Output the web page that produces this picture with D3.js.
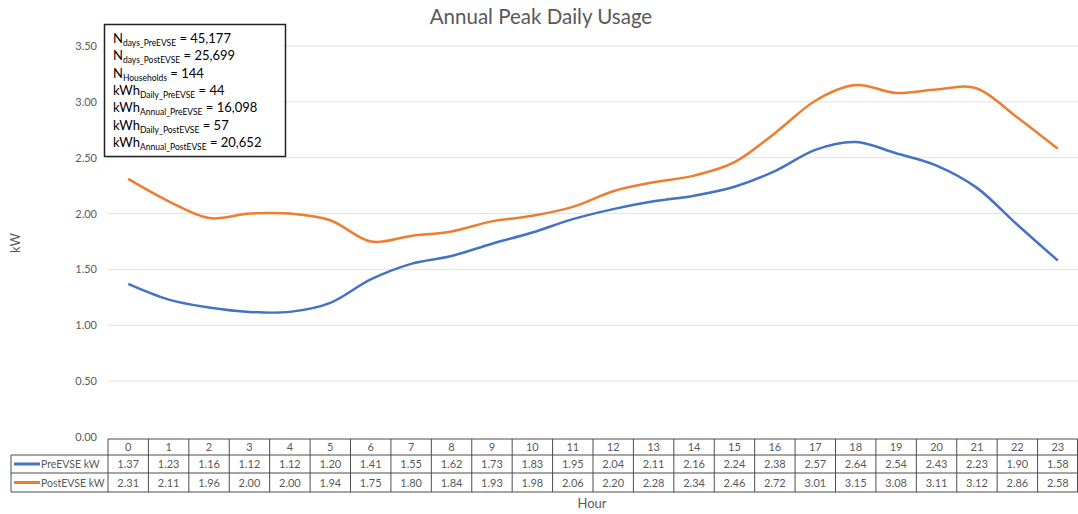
<!DOCTYPE html>
<html>
<head>
<meta charset="utf-8">
<script src="https://cdn.jsdelivr.net/npm/d3@7"></script>
<style>
  body { margin: 0; background: #fff; }
  text { font-family: Lato, "Open Sans", sans-serif; }
</style>
</head>
<body>
<div id="chart"></div>
<script>
// data
let hours = d3.range(0, 24).map(String)
let preEVSE = [1.37, 1.23, 1.16, 1.12, 1.12, 1.20, 1.41, 1.55, 1.62, 1.73, 1.83, 1.95,
    2.04, 2.11, 2.16, 2.24, 2.38, 2.57, 2.64, 2.54, 2.43, 2.23, 1.90, 1.58]
let postEVSE = [2.31, 2.11, 1.96, 2.00, 2.00, 1.94, 1.75, 1.80, 1.84, 1.93, 1.98, 2.06,
    2.20, 2.28, 2.34, 2.46, 2.72, 3.01, 3.15, 3.08, 3.11, 3.12, 2.86, 2.58]
let seriesNames = ['PreEVSE kW', 'PostEVSE kW']
let yTicks = [0, 0.5, 1, 1.5, 2, 2.5, 3, 3.5]
// annotation lines: [main, subscript, value]
let notes = [
    ['N', 'days_PreEVSE', '45,177'],
    ['N', 'days_PostEVSE', '25,699'],
    ['N', 'Households', '144'],
    ['kWh', 'Daily_PreEVSE', '44'],
    ['kWh', 'Annual_PreEVSE', '16,098'],
    ['kWh', 'Daily_PostEVSE', '57'],
    ['kWh', 'Annual_PostEVSE', '20,652']
]

let colors = ['#4472C4', '#ED7D31']
let grey = '#595959'

let width = 1078, height = 514
let svg = d3.select('#chart')
    .append('svg')
    .attr('width', width)
    .attr('height', height)

let x = d3.scaleBand()
    .domain(hours)
    .range([108, 1078])
let y = d3.scaleLinear()
    .domain([0, 3.5])
    .range([437, 46])

// title
svg.append('text')
    .attr('x', 541)
    .attr('y', 24)
    .attr('text-anchor', 'middle')
    .style('font-size', '20.5px')
    .style('fill', grey)
    .text('Annual Peak Daily Usage')

// gridlines
svg.append('g')
    .selectAll('line')
    .data(yTicks.slice(1))
    .join('line')
    .attr('x1', 107)
    .attr('x2', 1078)
    .attr('y1', d => y(d))
    .attr('y2', d => y(d))
    .style('stroke', '#e3e3e3')
    .style('stroke-width', 1)

// y labels
svg.append('g')
    .selectAll('text')
    .data(yTicks)
    .join('text')
    .attr('x', 97)
    .attr('y', d => y(d) + 4)
    .attr('text-anchor', 'end')
    .style('font-size', '11px')
    .style('fill', grey)
    .text(d => d3.format('.2f')(d))

svg.append('text')
    .attr('transform', 'translate(20, 243) rotate(-90)')
    .attr('text-anchor', 'middle')
    .style('font-size', '13px')
    .style('fill', grey)
    .text('kW')

// lines
let line = d3.line()
    .x((d, i) => x(hours[i]) + x.bandwidth() / 2)
    .y(d => y(d))
    .curve(d3.curveCardinal.tension(0))

svg.append('g')
    .selectAll('path')
    .data([preEVSE, postEVSE])
    .join('path')
    .attr('d', line)
    .style('fill', 'none')
    .style('stroke', (d, i) => colors[i])
    .style('stroke-width', 2.5)
    .style('stroke-linejoin', 'round')

// data table
let rowTop = [439, 455, 473]
let rowBottom = 492
let table = svg.append('g')
let border = '#4d4d4d'

// header cells
table.selectAll('.hdr')
    .data(hours)
    .join('text')
    .attr('class', 'hdr')
    .attr('x', d => x(d) + x.bandwidth() / 2)
    .attr('y', (rowTop[0] + rowTop[1]) / 2 + 4)
    .attr('text-anchor', 'middle')
    .style('font-size', '11px')
    .style('fill', grey)
    .text(d => d)

let values = [preEVSE, postEVSE]
values.forEach((vals, r) => {
    let cy = (rowTop[r + 1] + (rowTop[r + 2] || rowBottom)) / 2
    table.append('g')
        .selectAll('text')
        .data(vals)
        .join('text')
        .attr('x', (d, i) => x(hours[i]) + x.bandwidth() / 2)
        .attr('y', cy + 4)
        .attr('text-anchor', 'middle')
        .style('font-size', '11px')
        .style('fill', grey)
        .text(d => d3.format('.2f')(d))

    table.append('line')
        .attr('x1', 14)
        .attr('x2', 40)
        .attr('y1', cy)
        .attr('y2', cy)
        .style('stroke', colors[r])
        .style('stroke-width', 3)
    table.append('text')
        .attr('x', 41)
        .attr('y', cy + 4)
        .style('font-size', '10.5px')
        .style('fill', grey)
        .text(seriesNames[r])
})

// table borders
let x0 = x.range()[0], x1 = x.range()[1]
table.append('line')
    .attr('x1', x0).attr('x2', x1)
    .attr('y1', rowTop[0]).attr('y2', rowTop[0])
    .style('stroke', border)
table.selectAll('.hl')
    .data([rowTop[1], rowTop[2], rowBottom])
    .join('line')
    .attr('class', 'hl')
    .attr('x1', 11).attr('x2', x1)
    .attr('y1', d => d).attr('y2', d => d)
    .style('stroke', border)
table.selectAll('.vl')
    .data(hours.concat(['end']))
    .join('line')
    .attr('class', 'vl')
    .attr('x1', d => d === 'end' ? x1 - 0.5 : x(d))
    .attr('x2', d => d === 'end' ? x1 - 0.5 : x(d))
    .attr('y1', rowTop[0])
    .attr('y2', rowBottom)
    .style('stroke', border)
table.append('line')
    .attr('x1', 11).attr('x2', 11)
    .attr('y1', rowTop[1]).attr('y2', rowBottom)
    .style('stroke', border)

svg.append('text')
    .attr('x', 592)
    .attr('y', 508)
    .attr('text-anchor', 'middle')
    .style('font-size', '13px')
    .style('fill', grey)
    .text('Hour')

// annotation box
svg.append('rect')
    .attr('x', 104.5)
    .attr('y', 24.5)
    .attr('width', 181)
    .attr('height', 132)
    .style('fill', '#fff')
    .style('stroke', '#222')
    .style('stroke-width', 1.5)

let note = svg.append('g')
    .selectAll('text')
    .data(notes)
    .join('text')
    .attr('x', 113)
    .attr('y', (d, i) => 43 + i * 17.3)
    .style('font-size', '13px')
    .style('fill', '#000')
note.append('tspan').text(d => d[0])
note.append('tspan')
    .attr('dy', 3)
    .style('font-size', '8.5px')
    .text(d => d[1])
note.append('tspan')
    .attr('dy', -3)
    .text(d => ' = ' + d[2])
</script>
</body>
</html>
